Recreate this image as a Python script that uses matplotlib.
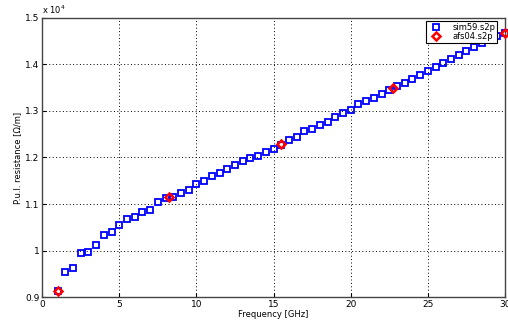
import numpy as np
import matplotlib
matplotlib.use("Agg")
import matplotlib.pyplot as plt
from matplotlib.ticker import ScalarFormatter

# sim59.s2p: 59 points, 1..30 GHz in 0.5 GHz steps (values in 1e4 Ohm/m)
sim_freq = np.arange(1.0, 30.01, 0.5)
sim_r = [0.913, 0.953, 0.962, 0.995, 0.997, 1.011, 1.034, 1.039, 1.055, 1.067,
         1.072, 1.083, 1.088, 1.104, 1.112, 1.116, 1.124, 1.131, 1.143, 1.149,
         1.160, 1.166, 1.176, 1.184, 1.193, 1.199, 1.204, 1.212, 1.219, 1.227,
         1.237, 1.243, 1.256, 1.261, 1.270, 1.277, 1.287, 1.296, 1.303, 1.314,
         1.321, 1.327, 1.336, 1.345, 1.353, 1.361, 1.369, 1.377, 1.386, 1.395,
         1.404, 1.412, 1.420, 1.428, 1.438, 1.446, 1.453, 1.460, 1.467]

# afs04.s2p: 5 points
afs_freq = [1.0, 8.25, 15.5, 22.75, 30.0]
afs_r = [0.913, 1.115, 1.228, 1.350, 1.467]

fig = plt.figure(figsize=(5.08, 3.24), dpi=100)
ax = fig.add_axes([0.083, 0.083, 0.911, 0.862])

ax.plot(sim_freq, np.array(sim_r) * 1e4, "s", color="blue", mfc="none",
        mew=1.3, ms=4.0, label="sim59.s2p", clip_on=False)
ax.plot(afs_freq, np.array(afs_r) * 1e4, "D", color="red", mfc="none",
        mew=1.8, ms=4.5, label="afs04.s2p", clip_on=False, zorder=3)

ax.set_xlim(0, 30)
ax.set_ylim(0.9e4, 1.5e4)
ax.set_xticks([0, 5, 10, 15, 20, 25, 30])
ax.set_yticks(np.array([0.9, 1.0, 1.1, 1.2, 1.3, 1.4, 1.5]) * 1e4)

fmt = ScalarFormatter(useMathText=False)
fmt.set_powerlimits((0, 0))
ax.yaxis.set_major_formatter(fmt)
ax.yaxis.offsetText.set_visible(False)
ax.set_yticklabels(["0.9", "1", "1.1", "1.2", "1.3", "1.4", "1.5"])
ax.text(0.0, 1.005, "x 10$^4$", transform=ax.transAxes, fontsize=6,
        ha="left", va="bottom")

ax.grid(True, color="black", linestyle=(0, (1, 2.5)), linewidth=0.7)
ax.tick_params(labelsize=6.5, direction="in", length=3, pad=2)
for s in ax.spines.values():
    s.set_color("#444444")
    s.set_linewidth(1.0)

ax.set_xlabel("Frequency [GHz]", fontsize=6, labelpad=1)
ax.set_ylabel("P.u.l. resistance [Ω/m]", fontsize=6, labelpad=2)

leg = ax.legend(loc="upper right", fontsize=6, fancybox=False,
                edgecolor="black", framealpha=1, borderpad=0.2,
                handletextpad=0.8, labelspacing=0.05, borderaxespad=0.4,
                handlelength=2.2, bbox_to_anchor=(0.99, 1.0))
leg.get_frame().set_linewidth(0.8)

fig.savefig("out.png", dpi=100)
